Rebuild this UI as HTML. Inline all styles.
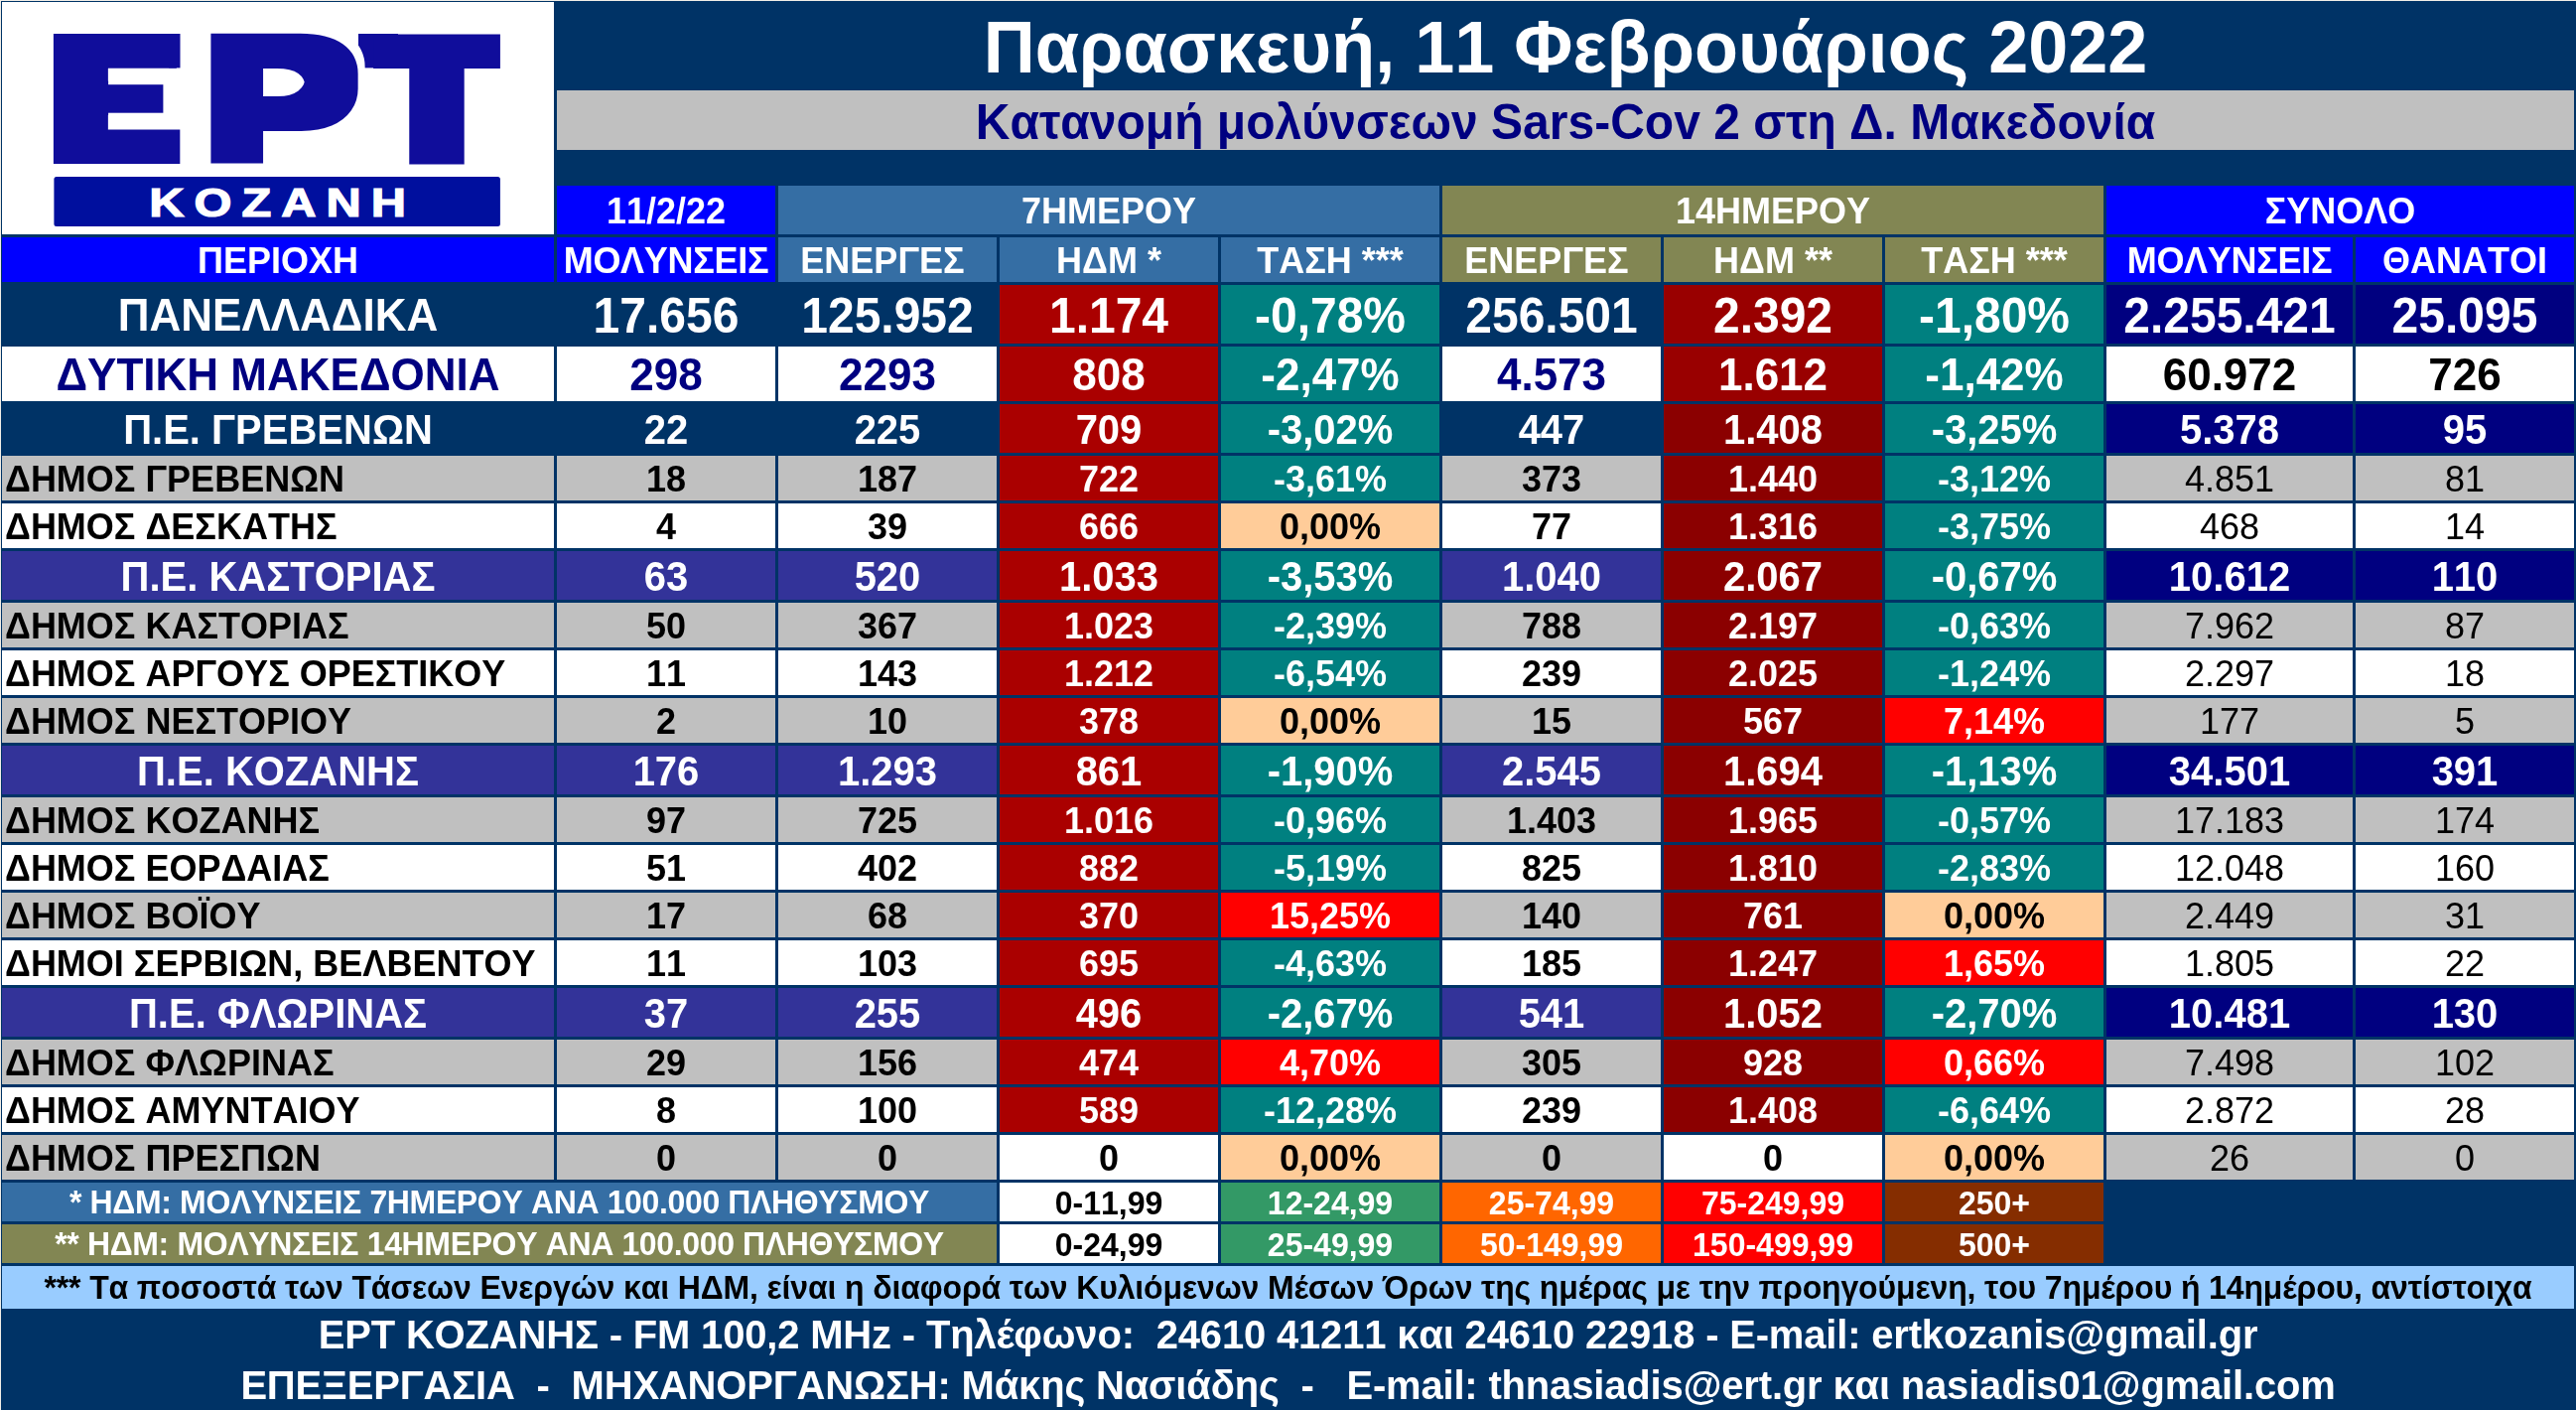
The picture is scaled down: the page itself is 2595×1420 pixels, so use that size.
<!DOCTYPE html>
<html lang="el"><head><meta charset="utf-8"><title>ΕΡΤ ΚΟΖΑΝΗ</title>
<style>
html,body{margin:0;padding:0}
body{width:2595px;height:1420px;background:#003366;position:relative;overflow:hidden;font-family:"Liberation Sans",Arial,sans-serif;font-weight:700;font-kerning:none;font-variant-ligatures:none}
.c{position:absolute;box-sizing:border-box;text-align:center;white-space:nowrap;overflow:visible}
.t{display:block;white-space:inherit}
</style></head><body>
<div class="c" style="left:2px;top:2px;width:556px;height:234px;background:#fff"></div>
<div class="c" style="left:0;top:0;width:2595px;height:1px;background:#F1EEE8"></div>
<div class="c" style="left:0;top:0;width:1px;height:1420px;background:#F1EEE8"></div>
<svg width="560" height="238" viewBox="0 0 560 238" style="position:absolute;left:0;top:0" font-family="Liberation Sans, Arial, sans-serif" font-weight="700">
<defs><filter id="fe" filterUnits="userSpaceOnUse" x="0" y="0" width="560" height="238" color-interpolation-filters="sRGB"><feMorphology in="SourceAlpha" operator="dilate" radius="15 8" result="a"/><feFlood flood-color="#100D9B"/><feComposite in2="a" operator="in" result="ab"/></filter><filter id="fp" filterUnits="userSpaceOnUse" x="0" y="0" width="560" height="238" color-interpolation-filters="sRGB"><feMorphology in="SourceAlpha" operator="dilate" radius="10 7" result="a"/><feFlood flood-color="#100D9B"/><feComposite in2="a" operator="in" result="ab"/><feMorphology in="a" operator="dilate" radius="7 7" result="h"/><feFlood flood-color="#fff"/><feComposite in2="h" operator="in" result="hw"/><feMerge><feMergeNode in="hw"/><feMergeNode in="ab"/></feMerge></filter><filter id="ft" filterUnits="userSpaceOnUse" x="0" y="0" width="560" height="238" color-interpolation-filters="sRGB"><feMorphology in="SourceAlpha" operator="dilate" radius="16 8" result="a"/><feFlood flood-color="#100D9B"/><feComposite in2="a" operator="in" result="ab"/></filter><clipPath id="cp"><rect x="0" y="0" width="560" height="164.4"/></clipPath></defs>
<rect x="361" y="34" width="40" height="34.4" fill="#100D9B"/>
<g filter="url(#fe)"><text transform="translate(57.37,157.00) scale(1.0451,1)" font-size="166.28" fill="#100D9B">Ε</text></g>
<g filter="url(#ft)"><text transform="translate(390.29,157.00) scale(0.9794,1)" font-size="166.28" fill="#100D9B">Τ</text></g>
<g clip-path="url(#cp)"><g filter="url(#fp)"><text transform="translate(207.23,170.79) scale(1.2018,1)" font-size="188.65" fill="#100D9B">Ρ</text></g></g>
<rect x="170" y="34" width="11.5" height="34.4" fill="#100D9B"/>
<rect x="164.4" y="78" width="12" height="40" fill="#fff"/>
<rect x="109.1" y="78" width="66" height="7.2" fill="#fff"/>
<rect x="109.1" y="113.7" width="66" height="4.5" fill="#fff"/>
<rect x="54.4" y="178.1" width="449.5" height="49.8" rx="2.5" fill="#000F9E"/>
<text transform="translate(284.6,218.2) scale(1.22,1)" text-anchor="middle" font-size="40" letter-spacing="8.2" fill="#fff" stroke="#fff" stroke-width="1.2">ΚΟΖΑΝΗ</text>
</svg>
<div class="c" style="left:561px;top:91px;width:2032px;height:60px;background:#C0C0C0;color:#000080;font-size:48px;line-height:65.72px;"><span class="t" style="transform:scaleY(1.03);transform-origin:50% 49px">Κατανομή μολύνσεων Sars-Cov 2 στη Δ. Μακεδονία</span></div>
<div class="c" style="left:561px;top:1px;width:2032px;height:90px;background:#003366;color:#fff;font-size:72px;line-height:95.08px;"><span class="t" style="transform:scaleY(1.03);transform-origin:50% 72px">Παρασκευή, 11 Φεβρουάριος 2022</span></div>
<div class="c" style="left:561px;top:187px;width:220px;height:49px;background:#0000FF;color:#fff;font-size:36px;line-height:52.04px;"><span class="t" style="transform:scaleY(1.04);transform-origin:50% 38px">11/2/22</span></div>
<div class="c" style="left:784px;top:187px;width:666px;height:49px;background:#356EA4;color:#fff;font-size:36px;line-height:52.04px;"><span class="t" style="transform:scaleY(1.04);transform-origin:50% 38px">7ΗΜΕΡΟΥ</span></div>
<div class="c" style="left:1453px;top:187px;width:666px;height:49px;background:#828653;color:#fff;font-size:36px;line-height:52.04px;"><span class="t" style="transform:scaleY(1.04);transform-origin:50% 38px">14ΗΜΕΡΟΥ</span></div>
<div class="c" style="left:2122px;top:187px;width:471px;height:49px;background:#0000FF;color:#fff;font-size:36px;line-height:52.04px;"><span class="t" style="transform:scaleY(1.04);transform-origin:50% 38px">ΣΥΝΟΛΟ</span></div>
<div class="c" style="left:2px;top:239px;width:556px;height:45px;background:#0000FF;color:#fff;font-size:36px;line-height:48.04px;"><span class="t" style="transform:scaleY(1.04);transform-origin:50% 36px">ΠΕΡΙΟΧΗ</span></div>
<div class="c" style="left:561px;top:239px;width:220px;height:45px;background:#0000FF;color:#fff;font-size:36px;line-height:48.04px;letter-spacing:-0.3px;"><span class="t" style="transform:scaleY(1.04);transform-origin:50% 36px">ΜΟΛΥΝΣΕΙΣ</span></div>
<div class="c" style="left:784px;top:239px;width:220px;height:45px;background:#356EA4;color:#fff;font-size:36px;line-height:48.04px;white-space:pre;"><span class="t" style="transform:scaleY(1.04);transform-origin:50% 36px">ΕΝΕΡΓΕΣ </span></div>
<div class="c" style="left:1007px;top:239px;width:220px;height:45px;background:#356EA4;color:#fff;font-size:36px;line-height:48.04px;"><span class="t" style="transform:scaleY(1.04);transform-origin:50% 36px">ΗΔΜ *</span></div>
<div class="c" style="left:1230px;top:239px;width:220px;height:45px;background:#356EA4;color:#fff;font-size:36px;line-height:48.04px;"><span class="t" style="transform:scaleY(1.04);transform-origin:50% 36px">ΤΑΣΗ ***</span></div>
<div class="c" style="left:1453px;top:239px;width:220px;height:45px;background:#828653;color:#fff;font-size:36px;line-height:48.04px;white-space:pre;"><span class="t" style="transform:scaleY(1.04);transform-origin:50% 36px">ΕΝΕΡΓΕΣ </span></div>
<div class="c" style="left:1676px;top:239px;width:220px;height:45px;background:#828653;color:#fff;font-size:36px;line-height:48.04px;"><span class="t" style="transform:scaleY(1.04);transform-origin:50% 36px">ΗΔΜ **</span></div>
<div class="c" style="left:1899px;top:239px;width:220px;height:45px;background:#828653;color:#fff;font-size:36px;line-height:48.04px;"><span class="t" style="transform:scaleY(1.04);transform-origin:50% 36px">ΤΑΣΗ ***</span></div>
<div class="c" style="left:2122px;top:239px;width:248px;height:45px;background:#0000FF;color:#fff;font-size:36px;line-height:48.04px;letter-spacing:-0.3px;"><span class="t" style="transform:scaleY(1.04);transform-origin:50% 36px">ΜΟΛΥΝΣΕΙΣ</span></div>
<div class="c" style="left:2373px;top:239px;width:220px;height:45px;background:#0000FF;color:#fff;font-size:36px;line-height:48.04px;"><span class="t" style="transform:scaleY(1.04);transform-origin:50% 36px">ΘΑΝΑΤΟΙ</span></div>
<div class="c" style="left:2px;top:287px;width:556px;height:59px;background:#003366;color:#fff;font-size:44px;line-height:62.49px;"><span class="t" style="transform:scaleY(1.04);transform-origin:50% 46px">ΠΑΝΕΛΛΑΔΙΚΑ</span></div>
<div class="c" style="left:561px;top:287px;width:220px;height:59px;background:#003366;color:#fff;font-size:48px;line-height:63.72px;"><span class="t" style="transform:scaleY(1.04);transform-origin:50% 48px">17.656</span></div>
<div class="c" style="left:784px;top:287px;width:220px;height:59px;background:#003366;color:#fff;font-size:48px;line-height:63.72px;"><span class="t" style="transform:scaleY(1.04);transform-origin:50% 48px">125.952</span></div>
<div class="c" style="left:1007px;top:287px;width:220px;height:59px;background:#AA0000;color:#fff;font-size:48px;line-height:63.72px;"><span class="t" style="transform:scaleY(1.04);transform-origin:50% 48px">1.174</span></div>
<div class="c" style="left:1230px;top:287px;width:220px;height:59px;background:#008080;color:#fff;font-size:48px;line-height:63.72px;"><span class="t" style="transform:scaleY(1.04);transform-origin:50% 48px">-0,78%</span></div>
<div class="c" style="left:1453px;top:287px;width:220px;height:59px;background:#003366;color:#fff;font-size:48px;line-height:63.72px;"><span class="t" style="transform:scaleY(1.04);transform-origin:50% 48px">256.501</span></div>
<div class="c" style="left:1676px;top:287px;width:220px;height:59px;background:#990000;color:#fff;font-size:48px;line-height:63.72px;"><span class="t" style="transform:scaleY(1.04);transform-origin:50% 48px">2.392</span></div>
<div class="c" style="left:1899px;top:287px;width:220px;height:59px;background:#008080;color:#fff;font-size:48px;line-height:63.72px;"><span class="t" style="transform:scaleY(1.04);transform-origin:50% 48px">-1,80%</span></div>
<div class="c" style="left:2122px;top:287px;width:248px;height:59px;background:#000080;color:#fff;font-size:48px;line-height:63.72px;"><span class="t" style="transform:scaleY(1.04);transform-origin:50% 48px">2.255.421</span></div>
<div class="c" style="left:2373px;top:287px;width:220px;height:59px;background:#000080;color:#fff;font-size:48px;line-height:63.72px;"><span class="t" style="transform:scaleY(1.04);transform-origin:50% 48px">25.095</span></div>
<div class="c" style="left:2px;top:349px;width:556px;height:55px;background:#FFFFFF;color:#000080;font-size:44px;line-height:58.49px;"><span class="t" style="transform:scaleY(1.04);transform-origin:50% 44px">ΔΥΤΙΚΗ ΜΑΚΕΔΟΝΙΑ</span></div>
<div class="c" style="left:561px;top:349px;width:220px;height:55px;background:#FFFFFF;color:#000080;font-size:44px;line-height:58.49px;"><span class="t" style="transform:scaleY(1.04);transform-origin:50% 44px">298</span></div>
<div class="c" style="left:784px;top:349px;width:220px;height:55px;background:#FFFFFF;color:#000080;font-size:44px;line-height:58.49px;"><span class="t" style="transform:scaleY(1.04);transform-origin:50% 44px">2293</span></div>
<div class="c" style="left:1007px;top:349px;width:220px;height:55px;background:#AA0000;color:#fff;font-size:44px;line-height:58.49px;"><span class="t" style="transform:scaleY(1.04);transform-origin:50% 44px">808</span></div>
<div class="c" style="left:1230px;top:349px;width:220px;height:55px;background:#008080;color:#fff;font-size:44px;line-height:58.49px;"><span class="t" style="transform:scaleY(1.04);transform-origin:50% 44px">-2,47%</span></div>
<div class="c" style="left:1453px;top:349px;width:220px;height:55px;background:#FFFFFF;color:#000080;font-size:44px;line-height:58.49px;"><span class="t" style="transform:scaleY(1.04);transform-origin:50% 44px">4.573</span></div>
<div class="c" style="left:1676px;top:349px;width:220px;height:55px;background:#990000;color:#fff;font-size:44px;line-height:58.49px;"><span class="t" style="transform:scaleY(1.04);transform-origin:50% 44px">1.612</span></div>
<div class="c" style="left:1899px;top:349px;width:220px;height:55px;background:#008080;color:#fff;font-size:44px;line-height:58.49px;"><span class="t" style="transform:scaleY(1.04);transform-origin:50% 44px">-1,42%</span></div>
<div class="c" style="left:2122px;top:349px;width:248px;height:55px;background:#FFFFFF;color:#000;font-size:44px;line-height:58.49px;"><span class="t" style="transform:scaleY(1.04);transform-origin:50% 44px">60.972</span></div>
<div class="c" style="left:2373px;top:349px;width:220px;height:55px;background:#FFFFFF;color:#000;font-size:44px;line-height:58.49px;"><span class="t" style="transform:scaleY(1.04);transform-origin:50% 44px">726</span></div>
<div class="c" style="left:2px;top:407px;width:556px;height:49px;background:#003366;color:#fff;font-size:40px;line-height:53.26px;"><span class="t" style="transform:scaleY(1.04);transform-origin:50% 40px">Π.Ε. ΓΡΕΒΕΝΩΝ</span></div>
<div class="c" style="left:561px;top:407px;width:220px;height:49px;background:#003366;color:#fff;font-size:40px;line-height:53.26px;"><span class="t" style="transform:scaleY(1.04);transform-origin:50% 40px">22</span></div>
<div class="c" style="left:784px;top:407px;width:220px;height:49px;background:#003366;color:#fff;font-size:40px;line-height:53.26px;"><span class="t" style="transform:scaleY(1.04);transform-origin:50% 40px">225</span></div>
<div class="c" style="left:1007px;top:407px;width:220px;height:49px;background:#AA0000;color:#fff;font-size:40px;line-height:53.26px;"><span class="t" style="transform:scaleY(1.04);transform-origin:50% 40px">709</span></div>
<div class="c" style="left:1230px;top:407px;width:220px;height:49px;background:#008080;color:#fff;font-size:40px;line-height:53.26px;"><span class="t" style="transform:scaleY(1.04);transform-origin:50% 40px">-3,02%</span></div>
<div class="c" style="left:1453px;top:407px;width:220px;height:49px;background:#003366;color:#fff;font-size:40px;line-height:53.26px;"><span class="t" style="transform:scaleY(1.04);transform-origin:50% 40px">447</span></div>
<div class="c" style="left:1676px;top:407px;width:220px;height:49px;background:#8B0000;color:#fff;font-size:40px;line-height:53.26px;"><span class="t" style="transform:scaleY(1.04);transform-origin:50% 40px">1.408</span></div>
<div class="c" style="left:1899px;top:407px;width:220px;height:49px;background:#008080;color:#fff;font-size:40px;line-height:53.26px;"><span class="t" style="transform:scaleY(1.04);transform-origin:50% 40px">-3,25%</span></div>
<div class="c" style="left:2122px;top:407px;width:248px;height:49px;background:#000080;color:#fff;font-size:40px;line-height:53.26px;"><span class="t" style="transform:scaleY(1.04);transform-origin:50% 40px">5.378</span></div>
<div class="c" style="left:2373px;top:407px;width:220px;height:49px;background:#000080;color:#fff;font-size:40px;line-height:53.26px;"><span class="t" style="transform:scaleY(1.04);transform-origin:50% 40px">95</span></div>
<div class="c" style="left:2px;top:459px;width:556px;height:45px;background:#C0C0C0;color:#000;font-size:36px;line-height:48.04px;text-align:left;padding-left:3px;"><span class="t" style="transform:scaleY(1.04);transform-origin:50% 36px">ΔΗΜΟΣ ΓΡΕΒΕΝΩΝ</span></div>
<div class="c" style="left:561px;top:459px;width:220px;height:45px;background:#C0C0C0;color:#000;font-size:36px;line-height:48.04px;"><span class="t" style="transform:scaleY(1.04);transform-origin:50% 36px">18</span></div>
<div class="c" style="left:784px;top:459px;width:220px;height:45px;background:#C0C0C0;color:#000;font-size:36px;line-height:48.04px;"><span class="t" style="transform:scaleY(1.04);transform-origin:50% 36px">187</span></div>
<div class="c" style="left:1007px;top:459px;width:220px;height:45px;background:#AA0000;color:#fff;font-size:36px;line-height:48.04px;"><span class="t" style="transform:scaleY(1.04);transform-origin:50% 36px">722</span></div>
<div class="c" style="left:1230px;top:459px;width:220px;height:45px;background:#008080;color:#fff;font-size:36px;line-height:48.04px;"><span class="t" style="transform:scaleY(1.04);transform-origin:50% 36px">-3,61%</span></div>
<div class="c" style="left:1453px;top:459px;width:220px;height:45px;background:#C0C0C0;color:#000;font-size:36px;line-height:48.04px;"><span class="t" style="transform:scaleY(1.04);transform-origin:50% 36px">373</span></div>
<div class="c" style="left:1676px;top:459px;width:220px;height:45px;background:#8B0000;color:#fff;font-size:36px;line-height:48.04px;"><span class="t" style="transform:scaleY(1.04);transform-origin:50% 36px">1.440</span></div>
<div class="c" style="left:1899px;top:459px;width:220px;height:45px;background:#008080;color:#fff;font-size:36px;line-height:48.04px;"><span class="t" style="transform:scaleY(1.04);transform-origin:50% 36px">-3,12%</span></div>
<div class="c" style="left:2122px;top:459px;width:248px;height:45px;background:#C0C0C0;color:#000;font-size:36px;line-height:48.04px;font-weight:400;"><span class="t" style="transform:scaleY(1.04);transform-origin:50% 36px">4.851</span></div>
<div class="c" style="left:2373px;top:459px;width:220px;height:45px;background:#C0C0C0;color:#000;font-size:36px;line-height:48.04px;font-weight:400;"><span class="t" style="transform:scaleY(1.04);transform-origin:50% 36px">81</span></div>
<div class="c" style="left:2px;top:507px;width:556px;height:45px;background:#FFFFFF;color:#000;font-size:36px;line-height:48.04px;text-align:left;padding-left:3px;"><span class="t" style="transform:scaleY(1.04);transform-origin:50% 36px">ΔΗΜΟΣ ΔΕΣΚΑΤΗΣ</span></div>
<div class="c" style="left:561px;top:507px;width:220px;height:45px;background:#FFFFFF;color:#000;font-size:36px;line-height:48.04px;"><span class="t" style="transform:scaleY(1.04);transform-origin:50% 36px">4</span></div>
<div class="c" style="left:784px;top:507px;width:220px;height:45px;background:#FFFFFF;color:#000;font-size:36px;line-height:48.04px;"><span class="t" style="transform:scaleY(1.04);transform-origin:50% 36px">39</span></div>
<div class="c" style="left:1007px;top:507px;width:220px;height:45px;background:#AA0000;color:#fff;font-size:36px;line-height:48.04px;"><span class="t" style="transform:scaleY(1.04);transform-origin:50% 36px">666</span></div>
<div class="c" style="left:1230px;top:507px;width:220px;height:45px;background:#FFCC99;color:#000;font-size:36px;line-height:48.04px;"><span class="t" style="transform:scaleY(1.04);transform-origin:50% 36px">0,00%</span></div>
<div class="c" style="left:1453px;top:507px;width:220px;height:45px;background:#FFFFFF;color:#000;font-size:36px;line-height:48.04px;"><span class="t" style="transform:scaleY(1.04);transform-origin:50% 36px">77</span></div>
<div class="c" style="left:1676px;top:507px;width:220px;height:45px;background:#8B0000;color:#fff;font-size:36px;line-height:48.04px;"><span class="t" style="transform:scaleY(1.04);transform-origin:50% 36px">1.316</span></div>
<div class="c" style="left:1899px;top:507px;width:220px;height:45px;background:#008080;color:#fff;font-size:36px;line-height:48.04px;"><span class="t" style="transform:scaleY(1.04);transform-origin:50% 36px">-3,75%</span></div>
<div class="c" style="left:2122px;top:507px;width:248px;height:45px;background:#FFFFFF;color:#000;font-size:36px;line-height:48.04px;font-weight:400;"><span class="t" style="transform:scaleY(1.04);transform-origin:50% 36px">468</span></div>
<div class="c" style="left:2373px;top:507px;width:220px;height:45px;background:#FFFFFF;color:#000;font-size:36px;line-height:48.04px;font-weight:400;"><span class="t" style="transform:scaleY(1.04);transform-origin:50% 36px">14</span></div>
<div class="c" style="left:2px;top:555px;width:556px;height:49px;background:#333399;color:#fff;font-size:40px;line-height:53.26px;"><span class="t" style="transform:scaleY(1.04);transform-origin:50% 40px">Π.Ε. ΚΑΣΤΟΡΙΑΣ</span></div>
<div class="c" style="left:561px;top:555px;width:220px;height:49px;background:#333399;color:#fff;font-size:40px;line-height:53.26px;"><span class="t" style="transform:scaleY(1.04);transform-origin:50% 40px">63</span></div>
<div class="c" style="left:784px;top:555px;width:220px;height:49px;background:#333399;color:#fff;font-size:40px;line-height:53.26px;"><span class="t" style="transform:scaleY(1.04);transform-origin:50% 40px">520</span></div>
<div class="c" style="left:1007px;top:555px;width:220px;height:49px;background:#AA0000;color:#fff;font-size:40px;line-height:53.26px;"><span class="t" style="transform:scaleY(1.04);transform-origin:50% 40px">1.033</span></div>
<div class="c" style="left:1230px;top:555px;width:220px;height:49px;background:#008080;color:#fff;font-size:40px;line-height:53.26px;"><span class="t" style="transform:scaleY(1.04);transform-origin:50% 40px">-3,53%</span></div>
<div class="c" style="left:1453px;top:555px;width:220px;height:49px;background:#333399;color:#fff;font-size:40px;line-height:53.26px;"><span class="t" style="transform:scaleY(1.04);transform-origin:50% 40px">1.040</span></div>
<div class="c" style="left:1676px;top:555px;width:220px;height:49px;background:#8B0000;color:#fff;font-size:40px;line-height:53.26px;"><span class="t" style="transform:scaleY(1.04);transform-origin:50% 40px">2.067</span></div>
<div class="c" style="left:1899px;top:555px;width:220px;height:49px;background:#008080;color:#fff;font-size:40px;line-height:53.26px;"><span class="t" style="transform:scaleY(1.04);transform-origin:50% 40px">-0,67%</span></div>
<div class="c" style="left:2122px;top:555px;width:248px;height:49px;background:#000080;color:#fff;font-size:40px;line-height:53.26px;"><span class="t" style="transform:scaleY(1.04);transform-origin:50% 40px">10.612</span></div>
<div class="c" style="left:2373px;top:555px;width:220px;height:49px;background:#000080;color:#fff;font-size:40px;line-height:53.26px;"><span class="t" style="transform:scaleY(1.04);transform-origin:50% 40px">110</span></div>
<div class="c" style="left:2px;top:607px;width:556px;height:45px;background:#C0C0C0;color:#000;font-size:36px;line-height:48.04px;text-align:left;padding-left:3px;"><span class="t" style="transform:scaleY(1.04);transform-origin:50% 36px">ΔΗΜΟΣ ΚΑΣΤΟΡΙΑΣ</span></div>
<div class="c" style="left:561px;top:607px;width:220px;height:45px;background:#C0C0C0;color:#000;font-size:36px;line-height:48.04px;"><span class="t" style="transform:scaleY(1.04);transform-origin:50% 36px">50</span></div>
<div class="c" style="left:784px;top:607px;width:220px;height:45px;background:#C0C0C0;color:#000;font-size:36px;line-height:48.04px;"><span class="t" style="transform:scaleY(1.04);transform-origin:50% 36px">367</span></div>
<div class="c" style="left:1007px;top:607px;width:220px;height:45px;background:#AA0000;color:#fff;font-size:36px;line-height:48.04px;"><span class="t" style="transform:scaleY(1.04);transform-origin:50% 36px">1.023</span></div>
<div class="c" style="left:1230px;top:607px;width:220px;height:45px;background:#008080;color:#fff;font-size:36px;line-height:48.04px;"><span class="t" style="transform:scaleY(1.04);transform-origin:50% 36px">-2,39%</span></div>
<div class="c" style="left:1453px;top:607px;width:220px;height:45px;background:#C0C0C0;color:#000;font-size:36px;line-height:48.04px;"><span class="t" style="transform:scaleY(1.04);transform-origin:50% 36px">788</span></div>
<div class="c" style="left:1676px;top:607px;width:220px;height:45px;background:#8B0000;color:#fff;font-size:36px;line-height:48.04px;"><span class="t" style="transform:scaleY(1.04);transform-origin:50% 36px">2.197</span></div>
<div class="c" style="left:1899px;top:607px;width:220px;height:45px;background:#008080;color:#fff;font-size:36px;line-height:48.04px;"><span class="t" style="transform:scaleY(1.04);transform-origin:50% 36px">-0,63%</span></div>
<div class="c" style="left:2122px;top:607px;width:248px;height:45px;background:#C0C0C0;color:#000;font-size:36px;line-height:48.04px;font-weight:400;"><span class="t" style="transform:scaleY(1.04);transform-origin:50% 36px">7.962</span></div>
<div class="c" style="left:2373px;top:607px;width:220px;height:45px;background:#C0C0C0;color:#000;font-size:36px;line-height:48.04px;font-weight:400;"><span class="t" style="transform:scaleY(1.04);transform-origin:50% 36px">87</span></div>
<div class="c" style="left:2px;top:655px;width:556px;height:45px;background:#FFFFFF;color:#000;font-size:36px;line-height:48.04px;text-align:left;padding-left:3px;"><span class="t" style="transform:scaleY(1.04);transform-origin:50% 36px">ΔΗΜΟΣ ΑΡΓΟΥΣ ΟΡΕΣΤΙΚΟΥ</span></div>
<div class="c" style="left:561px;top:655px;width:220px;height:45px;background:#FFFFFF;color:#000;font-size:36px;line-height:48.04px;"><span class="t" style="transform:scaleY(1.04);transform-origin:50% 36px">11</span></div>
<div class="c" style="left:784px;top:655px;width:220px;height:45px;background:#FFFFFF;color:#000;font-size:36px;line-height:48.04px;"><span class="t" style="transform:scaleY(1.04);transform-origin:50% 36px">143</span></div>
<div class="c" style="left:1007px;top:655px;width:220px;height:45px;background:#AA0000;color:#fff;font-size:36px;line-height:48.04px;"><span class="t" style="transform:scaleY(1.04);transform-origin:50% 36px">1.212</span></div>
<div class="c" style="left:1230px;top:655px;width:220px;height:45px;background:#008080;color:#fff;font-size:36px;line-height:48.04px;"><span class="t" style="transform:scaleY(1.04);transform-origin:50% 36px">-6,54%</span></div>
<div class="c" style="left:1453px;top:655px;width:220px;height:45px;background:#FFFFFF;color:#000;font-size:36px;line-height:48.04px;"><span class="t" style="transform:scaleY(1.04);transform-origin:50% 36px">239</span></div>
<div class="c" style="left:1676px;top:655px;width:220px;height:45px;background:#8B0000;color:#fff;font-size:36px;line-height:48.04px;"><span class="t" style="transform:scaleY(1.04);transform-origin:50% 36px">2.025</span></div>
<div class="c" style="left:1899px;top:655px;width:220px;height:45px;background:#008080;color:#fff;font-size:36px;line-height:48.04px;"><span class="t" style="transform:scaleY(1.04);transform-origin:50% 36px">-1,24%</span></div>
<div class="c" style="left:2122px;top:655px;width:248px;height:45px;background:#FFFFFF;color:#000;font-size:36px;line-height:48.04px;font-weight:400;"><span class="t" style="transform:scaleY(1.04);transform-origin:50% 36px">2.297</span></div>
<div class="c" style="left:2373px;top:655px;width:220px;height:45px;background:#FFFFFF;color:#000;font-size:36px;line-height:48.04px;font-weight:400;"><span class="t" style="transform:scaleY(1.04);transform-origin:50% 36px">18</span></div>
<div class="c" style="left:2px;top:703px;width:556px;height:45px;background:#C0C0C0;color:#000;font-size:36px;line-height:48.04px;text-align:left;padding-left:3px;"><span class="t" style="transform:scaleY(1.04);transform-origin:50% 36px">ΔΗΜΟΣ ΝΕΣΤΟΡΙΟΥ</span></div>
<div class="c" style="left:561px;top:703px;width:220px;height:45px;background:#C0C0C0;color:#000;font-size:36px;line-height:48.04px;"><span class="t" style="transform:scaleY(1.04);transform-origin:50% 36px">2</span></div>
<div class="c" style="left:784px;top:703px;width:220px;height:45px;background:#C0C0C0;color:#000;font-size:36px;line-height:48.04px;"><span class="t" style="transform:scaleY(1.04);transform-origin:50% 36px">10</span></div>
<div class="c" style="left:1007px;top:703px;width:220px;height:45px;background:#AA0000;color:#fff;font-size:36px;line-height:48.04px;"><span class="t" style="transform:scaleY(1.04);transform-origin:50% 36px">378</span></div>
<div class="c" style="left:1230px;top:703px;width:220px;height:45px;background:#FFCC99;color:#000;font-size:36px;line-height:48.04px;"><span class="t" style="transform:scaleY(1.04);transform-origin:50% 36px">0,00%</span></div>
<div class="c" style="left:1453px;top:703px;width:220px;height:45px;background:#C0C0C0;color:#000;font-size:36px;line-height:48.04px;"><span class="t" style="transform:scaleY(1.04);transform-origin:50% 36px">15</span></div>
<div class="c" style="left:1676px;top:703px;width:220px;height:45px;background:#8B0000;color:#fff;font-size:36px;line-height:48.04px;"><span class="t" style="transform:scaleY(1.04);transform-origin:50% 36px">567</span></div>
<div class="c" style="left:1899px;top:703px;width:220px;height:45px;background:#FF0000;color:#fff;font-size:36px;line-height:48.04px;"><span class="t" style="transform:scaleY(1.04);transform-origin:50% 36px">7,14%</span></div>
<div class="c" style="left:2122px;top:703px;width:248px;height:45px;background:#C0C0C0;color:#000;font-size:36px;line-height:48.04px;font-weight:400;"><span class="t" style="transform:scaleY(1.04);transform-origin:50% 36px">177</span></div>
<div class="c" style="left:2373px;top:703px;width:220px;height:45px;background:#C0C0C0;color:#000;font-size:36px;line-height:48.04px;font-weight:400;"><span class="t" style="transform:scaleY(1.04);transform-origin:50% 36px">5</span></div>
<div class="c" style="left:2px;top:751px;width:556px;height:49px;background:#333399;color:#fff;font-size:40px;line-height:53.26px;"><span class="t" style="transform:scaleY(1.04);transform-origin:50% 40px">Π.Ε. ΚΟΖΑΝΗΣ</span></div>
<div class="c" style="left:561px;top:751px;width:220px;height:49px;background:#333399;color:#fff;font-size:40px;line-height:53.26px;"><span class="t" style="transform:scaleY(1.04);transform-origin:50% 40px">176</span></div>
<div class="c" style="left:784px;top:751px;width:220px;height:49px;background:#333399;color:#fff;font-size:40px;line-height:53.26px;"><span class="t" style="transform:scaleY(1.04);transform-origin:50% 40px">1.293</span></div>
<div class="c" style="left:1007px;top:751px;width:220px;height:49px;background:#AA0000;color:#fff;font-size:40px;line-height:53.26px;"><span class="t" style="transform:scaleY(1.04);transform-origin:50% 40px">861</span></div>
<div class="c" style="left:1230px;top:751px;width:220px;height:49px;background:#008080;color:#fff;font-size:40px;line-height:53.26px;"><span class="t" style="transform:scaleY(1.04);transform-origin:50% 40px">-1,90%</span></div>
<div class="c" style="left:1453px;top:751px;width:220px;height:49px;background:#333399;color:#fff;font-size:40px;line-height:53.26px;"><span class="t" style="transform:scaleY(1.04);transform-origin:50% 40px">2.545</span></div>
<div class="c" style="left:1676px;top:751px;width:220px;height:49px;background:#8B0000;color:#fff;font-size:40px;line-height:53.26px;"><span class="t" style="transform:scaleY(1.04);transform-origin:50% 40px">1.694</span></div>
<div class="c" style="left:1899px;top:751px;width:220px;height:49px;background:#008080;color:#fff;font-size:40px;line-height:53.26px;"><span class="t" style="transform:scaleY(1.04);transform-origin:50% 40px">-1,13%</span></div>
<div class="c" style="left:2122px;top:751px;width:248px;height:49px;background:#000080;color:#fff;font-size:40px;line-height:53.26px;"><span class="t" style="transform:scaleY(1.04);transform-origin:50% 40px">34.501</span></div>
<div class="c" style="left:2373px;top:751px;width:220px;height:49px;background:#000080;color:#fff;font-size:40px;line-height:53.26px;"><span class="t" style="transform:scaleY(1.04);transform-origin:50% 40px">391</span></div>
<div class="c" style="left:2px;top:803px;width:556px;height:45px;background:#C0C0C0;color:#000;font-size:36px;line-height:48.04px;text-align:left;padding-left:3px;"><span class="t" style="transform:scaleY(1.04);transform-origin:50% 36px">ΔΗΜΟΣ ΚΟΖΑΝΗΣ</span></div>
<div class="c" style="left:561px;top:803px;width:220px;height:45px;background:#C0C0C0;color:#000;font-size:36px;line-height:48.04px;"><span class="t" style="transform:scaleY(1.04);transform-origin:50% 36px">97</span></div>
<div class="c" style="left:784px;top:803px;width:220px;height:45px;background:#C0C0C0;color:#000;font-size:36px;line-height:48.04px;"><span class="t" style="transform:scaleY(1.04);transform-origin:50% 36px">725</span></div>
<div class="c" style="left:1007px;top:803px;width:220px;height:45px;background:#AA0000;color:#fff;font-size:36px;line-height:48.04px;"><span class="t" style="transform:scaleY(1.04);transform-origin:50% 36px">1.016</span></div>
<div class="c" style="left:1230px;top:803px;width:220px;height:45px;background:#008080;color:#fff;font-size:36px;line-height:48.04px;"><span class="t" style="transform:scaleY(1.04);transform-origin:50% 36px">-0,96%</span></div>
<div class="c" style="left:1453px;top:803px;width:220px;height:45px;background:#C0C0C0;color:#000;font-size:36px;line-height:48.04px;"><span class="t" style="transform:scaleY(1.04);transform-origin:50% 36px">1.403</span></div>
<div class="c" style="left:1676px;top:803px;width:220px;height:45px;background:#8B0000;color:#fff;font-size:36px;line-height:48.04px;"><span class="t" style="transform:scaleY(1.04);transform-origin:50% 36px">1.965</span></div>
<div class="c" style="left:1899px;top:803px;width:220px;height:45px;background:#008080;color:#fff;font-size:36px;line-height:48.04px;"><span class="t" style="transform:scaleY(1.04);transform-origin:50% 36px">-0,57%</span></div>
<div class="c" style="left:2122px;top:803px;width:248px;height:45px;background:#C0C0C0;color:#000;font-size:36px;line-height:48.04px;font-weight:400;"><span class="t" style="transform:scaleY(1.04);transform-origin:50% 36px">17.183</span></div>
<div class="c" style="left:2373px;top:803px;width:220px;height:45px;background:#C0C0C0;color:#000;font-size:36px;line-height:48.04px;font-weight:400;"><span class="t" style="transform:scaleY(1.04);transform-origin:50% 36px">174</span></div>
<div class="c" style="left:2px;top:851px;width:556px;height:45px;background:#FFFFFF;color:#000;font-size:36px;line-height:48.04px;text-align:left;padding-left:3px;"><span class="t" style="transform:scaleY(1.04);transform-origin:50% 36px">ΔΗΜΟΣ ΕΟΡΔΑΙΑΣ</span></div>
<div class="c" style="left:561px;top:851px;width:220px;height:45px;background:#FFFFFF;color:#000;font-size:36px;line-height:48.04px;"><span class="t" style="transform:scaleY(1.04);transform-origin:50% 36px">51</span></div>
<div class="c" style="left:784px;top:851px;width:220px;height:45px;background:#FFFFFF;color:#000;font-size:36px;line-height:48.04px;"><span class="t" style="transform:scaleY(1.04);transform-origin:50% 36px">402</span></div>
<div class="c" style="left:1007px;top:851px;width:220px;height:45px;background:#AA0000;color:#fff;font-size:36px;line-height:48.04px;"><span class="t" style="transform:scaleY(1.04);transform-origin:50% 36px">882</span></div>
<div class="c" style="left:1230px;top:851px;width:220px;height:45px;background:#008080;color:#fff;font-size:36px;line-height:48.04px;"><span class="t" style="transform:scaleY(1.04);transform-origin:50% 36px">-5,19%</span></div>
<div class="c" style="left:1453px;top:851px;width:220px;height:45px;background:#FFFFFF;color:#000;font-size:36px;line-height:48.04px;"><span class="t" style="transform:scaleY(1.04);transform-origin:50% 36px">825</span></div>
<div class="c" style="left:1676px;top:851px;width:220px;height:45px;background:#8B0000;color:#fff;font-size:36px;line-height:48.04px;"><span class="t" style="transform:scaleY(1.04);transform-origin:50% 36px">1.810</span></div>
<div class="c" style="left:1899px;top:851px;width:220px;height:45px;background:#008080;color:#fff;font-size:36px;line-height:48.04px;"><span class="t" style="transform:scaleY(1.04);transform-origin:50% 36px">-2,83%</span></div>
<div class="c" style="left:2122px;top:851px;width:248px;height:45px;background:#FFFFFF;color:#000;font-size:36px;line-height:48.04px;font-weight:400;"><span class="t" style="transform:scaleY(1.04);transform-origin:50% 36px">12.048</span></div>
<div class="c" style="left:2373px;top:851px;width:220px;height:45px;background:#FFFFFF;color:#000;font-size:36px;line-height:48.04px;font-weight:400;"><span class="t" style="transform:scaleY(1.04);transform-origin:50% 36px">160</span></div>
<div class="c" style="left:2px;top:899px;width:556px;height:45px;background:#C0C0C0;color:#000;font-size:36px;line-height:48.04px;text-align:left;padding-left:3px;"><span class="t" style="transform:scaleY(1.04);transform-origin:50% 36px">ΔΗΜΟΣ ΒΟΪΟΥ</span></div>
<div class="c" style="left:561px;top:899px;width:220px;height:45px;background:#C0C0C0;color:#000;font-size:36px;line-height:48.04px;"><span class="t" style="transform:scaleY(1.04);transform-origin:50% 36px">17</span></div>
<div class="c" style="left:784px;top:899px;width:220px;height:45px;background:#C0C0C0;color:#000;font-size:36px;line-height:48.04px;"><span class="t" style="transform:scaleY(1.04);transform-origin:50% 36px">68</span></div>
<div class="c" style="left:1007px;top:899px;width:220px;height:45px;background:#AA0000;color:#fff;font-size:36px;line-height:48.04px;"><span class="t" style="transform:scaleY(1.04);transform-origin:50% 36px">370</span></div>
<div class="c" style="left:1230px;top:899px;width:220px;height:45px;background:#FF0000;color:#fff;font-size:36px;line-height:48.04px;"><span class="t" style="transform:scaleY(1.04);transform-origin:50% 36px">15,25%</span></div>
<div class="c" style="left:1453px;top:899px;width:220px;height:45px;background:#C0C0C0;color:#000;font-size:36px;line-height:48.04px;"><span class="t" style="transform:scaleY(1.04);transform-origin:50% 36px">140</span></div>
<div class="c" style="left:1676px;top:899px;width:220px;height:45px;background:#8B0000;color:#fff;font-size:36px;line-height:48.04px;"><span class="t" style="transform:scaleY(1.04);transform-origin:50% 36px">761</span></div>
<div class="c" style="left:1899px;top:899px;width:220px;height:45px;background:#FFCC99;color:#000;font-size:36px;line-height:48.04px;"><span class="t" style="transform:scaleY(1.04);transform-origin:50% 36px">0,00%</span></div>
<div class="c" style="left:2122px;top:899px;width:248px;height:45px;background:#C0C0C0;color:#000;font-size:36px;line-height:48.04px;font-weight:400;"><span class="t" style="transform:scaleY(1.04);transform-origin:50% 36px">2.449</span></div>
<div class="c" style="left:2373px;top:899px;width:220px;height:45px;background:#C0C0C0;color:#000;font-size:36px;line-height:48.04px;font-weight:400;"><span class="t" style="transform:scaleY(1.04);transform-origin:50% 36px">31</span></div>
<div class="c" style="left:2px;top:947px;width:556px;height:45px;background:#FFFFFF;color:#000;font-size:36px;line-height:48.04px;text-align:left;padding-left:3px;"><span class="t" style="transform:scaleY(1.04);transform-origin:50% 36px">ΔΗΜΟΙ ΣΕΡΒΙΩΝ, ΒΕΛΒΕΝΤΟΥ</span></div>
<div class="c" style="left:561px;top:947px;width:220px;height:45px;background:#FFFFFF;color:#000;font-size:36px;line-height:48.04px;"><span class="t" style="transform:scaleY(1.04);transform-origin:50% 36px">11</span></div>
<div class="c" style="left:784px;top:947px;width:220px;height:45px;background:#FFFFFF;color:#000;font-size:36px;line-height:48.04px;"><span class="t" style="transform:scaleY(1.04);transform-origin:50% 36px">103</span></div>
<div class="c" style="left:1007px;top:947px;width:220px;height:45px;background:#AA0000;color:#fff;font-size:36px;line-height:48.04px;"><span class="t" style="transform:scaleY(1.04);transform-origin:50% 36px">695</span></div>
<div class="c" style="left:1230px;top:947px;width:220px;height:45px;background:#008080;color:#fff;font-size:36px;line-height:48.04px;"><span class="t" style="transform:scaleY(1.04);transform-origin:50% 36px">-4,63%</span></div>
<div class="c" style="left:1453px;top:947px;width:220px;height:45px;background:#FFFFFF;color:#000;font-size:36px;line-height:48.04px;"><span class="t" style="transform:scaleY(1.04);transform-origin:50% 36px">185</span></div>
<div class="c" style="left:1676px;top:947px;width:220px;height:45px;background:#8B0000;color:#fff;font-size:36px;line-height:48.04px;"><span class="t" style="transform:scaleY(1.04);transform-origin:50% 36px">1.247</span></div>
<div class="c" style="left:1899px;top:947px;width:220px;height:45px;background:#FF0000;color:#fff;font-size:36px;line-height:48.04px;"><span class="t" style="transform:scaleY(1.04);transform-origin:50% 36px">1,65%</span></div>
<div class="c" style="left:2122px;top:947px;width:248px;height:45px;background:#FFFFFF;color:#000;font-size:36px;line-height:48.04px;font-weight:400;"><span class="t" style="transform:scaleY(1.04);transform-origin:50% 36px">1.805</span></div>
<div class="c" style="left:2373px;top:947px;width:220px;height:45px;background:#FFFFFF;color:#000;font-size:36px;line-height:48.04px;font-weight:400;"><span class="t" style="transform:scaleY(1.04);transform-origin:50% 36px">22</span></div>
<div class="c" style="left:2px;top:995px;width:556px;height:49px;background:#333399;color:#fff;font-size:40px;line-height:53.26px;"><span class="t" style="transform:scaleY(1.04);transform-origin:50% 40px">Π.Ε. ΦΛΩΡΙΝΑΣ</span></div>
<div class="c" style="left:561px;top:995px;width:220px;height:49px;background:#333399;color:#fff;font-size:40px;line-height:53.26px;"><span class="t" style="transform:scaleY(1.04);transform-origin:50% 40px">37</span></div>
<div class="c" style="left:784px;top:995px;width:220px;height:49px;background:#333399;color:#fff;font-size:40px;line-height:53.26px;"><span class="t" style="transform:scaleY(1.04);transform-origin:50% 40px">255</span></div>
<div class="c" style="left:1007px;top:995px;width:220px;height:49px;background:#AA0000;color:#fff;font-size:40px;line-height:53.26px;"><span class="t" style="transform:scaleY(1.04);transform-origin:50% 40px">496</span></div>
<div class="c" style="left:1230px;top:995px;width:220px;height:49px;background:#008080;color:#fff;font-size:40px;line-height:53.26px;"><span class="t" style="transform:scaleY(1.04);transform-origin:50% 40px">-2,67%</span></div>
<div class="c" style="left:1453px;top:995px;width:220px;height:49px;background:#333399;color:#fff;font-size:40px;line-height:53.26px;"><span class="t" style="transform:scaleY(1.04);transform-origin:50% 40px">541</span></div>
<div class="c" style="left:1676px;top:995px;width:220px;height:49px;background:#8B0000;color:#fff;font-size:40px;line-height:53.26px;"><span class="t" style="transform:scaleY(1.04);transform-origin:50% 40px">1.052</span></div>
<div class="c" style="left:1899px;top:995px;width:220px;height:49px;background:#008080;color:#fff;font-size:40px;line-height:53.26px;"><span class="t" style="transform:scaleY(1.04);transform-origin:50% 40px">-2,70%</span></div>
<div class="c" style="left:2122px;top:995px;width:248px;height:49px;background:#000080;color:#fff;font-size:40px;line-height:53.26px;"><span class="t" style="transform:scaleY(1.04);transform-origin:50% 40px">10.481</span></div>
<div class="c" style="left:2373px;top:995px;width:220px;height:49px;background:#000080;color:#fff;font-size:40px;line-height:53.26px;"><span class="t" style="transform:scaleY(1.04);transform-origin:50% 40px">130</span></div>
<div class="c" style="left:2px;top:1047px;width:556px;height:45px;background:#C0C0C0;color:#000;font-size:36px;line-height:48.04px;text-align:left;padding-left:3px;"><span class="t" style="transform:scaleY(1.04);transform-origin:50% 36px">ΔΗΜΟΣ ΦΛΩΡΙΝΑΣ</span></div>
<div class="c" style="left:561px;top:1047px;width:220px;height:45px;background:#C0C0C0;color:#000;font-size:36px;line-height:48.04px;"><span class="t" style="transform:scaleY(1.04);transform-origin:50% 36px">29</span></div>
<div class="c" style="left:784px;top:1047px;width:220px;height:45px;background:#C0C0C0;color:#000;font-size:36px;line-height:48.04px;"><span class="t" style="transform:scaleY(1.04);transform-origin:50% 36px">156</span></div>
<div class="c" style="left:1007px;top:1047px;width:220px;height:45px;background:#AA0000;color:#fff;font-size:36px;line-height:48.04px;"><span class="t" style="transform:scaleY(1.04);transform-origin:50% 36px">474</span></div>
<div class="c" style="left:1230px;top:1047px;width:220px;height:45px;background:#FF0000;color:#fff;font-size:36px;line-height:48.04px;"><span class="t" style="transform:scaleY(1.04);transform-origin:50% 36px">4,70%</span></div>
<div class="c" style="left:1453px;top:1047px;width:220px;height:45px;background:#C0C0C0;color:#000;font-size:36px;line-height:48.04px;"><span class="t" style="transform:scaleY(1.04);transform-origin:50% 36px">305</span></div>
<div class="c" style="left:1676px;top:1047px;width:220px;height:45px;background:#8B0000;color:#fff;font-size:36px;line-height:48.04px;"><span class="t" style="transform:scaleY(1.04);transform-origin:50% 36px">928</span></div>
<div class="c" style="left:1899px;top:1047px;width:220px;height:45px;background:#FF0000;color:#fff;font-size:36px;line-height:48.04px;"><span class="t" style="transform:scaleY(1.04);transform-origin:50% 36px">0,66%</span></div>
<div class="c" style="left:2122px;top:1047px;width:248px;height:45px;background:#C0C0C0;color:#000;font-size:36px;line-height:48.04px;font-weight:400;"><span class="t" style="transform:scaleY(1.04);transform-origin:50% 36px">7.498</span></div>
<div class="c" style="left:2373px;top:1047px;width:220px;height:45px;background:#C0C0C0;color:#000;font-size:36px;line-height:48.04px;font-weight:400;"><span class="t" style="transform:scaleY(1.04);transform-origin:50% 36px">102</span></div>
<div class="c" style="left:2px;top:1095px;width:556px;height:45px;background:#FFFFFF;color:#000;font-size:36px;line-height:48.04px;text-align:left;padding-left:3px;"><span class="t" style="transform:scaleY(1.04);transform-origin:50% 36px">ΔΗΜΟΣ ΑΜΥΝΤΑΙΟΥ</span></div>
<div class="c" style="left:561px;top:1095px;width:220px;height:45px;background:#FFFFFF;color:#000;font-size:36px;line-height:48.04px;"><span class="t" style="transform:scaleY(1.04);transform-origin:50% 36px">8</span></div>
<div class="c" style="left:784px;top:1095px;width:220px;height:45px;background:#FFFFFF;color:#000;font-size:36px;line-height:48.04px;"><span class="t" style="transform:scaleY(1.04);transform-origin:50% 36px">100</span></div>
<div class="c" style="left:1007px;top:1095px;width:220px;height:45px;background:#AA0000;color:#fff;font-size:36px;line-height:48.04px;"><span class="t" style="transform:scaleY(1.04);transform-origin:50% 36px">589</span></div>
<div class="c" style="left:1230px;top:1095px;width:220px;height:45px;background:#008080;color:#fff;font-size:36px;line-height:48.04px;"><span class="t" style="transform:scaleY(1.04);transform-origin:50% 36px">-12,28%</span></div>
<div class="c" style="left:1453px;top:1095px;width:220px;height:45px;background:#FFFFFF;color:#000;font-size:36px;line-height:48.04px;"><span class="t" style="transform:scaleY(1.04);transform-origin:50% 36px">239</span></div>
<div class="c" style="left:1676px;top:1095px;width:220px;height:45px;background:#8B0000;color:#fff;font-size:36px;line-height:48.04px;"><span class="t" style="transform:scaleY(1.04);transform-origin:50% 36px">1.408</span></div>
<div class="c" style="left:1899px;top:1095px;width:220px;height:45px;background:#008080;color:#fff;font-size:36px;line-height:48.04px;"><span class="t" style="transform:scaleY(1.04);transform-origin:50% 36px">-6,64%</span></div>
<div class="c" style="left:2122px;top:1095px;width:248px;height:45px;background:#FFFFFF;color:#000;font-size:36px;line-height:48.04px;font-weight:400;"><span class="t" style="transform:scaleY(1.04);transform-origin:50% 36px">2.872</span></div>
<div class="c" style="left:2373px;top:1095px;width:220px;height:45px;background:#FFFFFF;color:#000;font-size:36px;line-height:48.04px;font-weight:400;"><span class="t" style="transform:scaleY(1.04);transform-origin:50% 36px">28</span></div>
<div class="c" style="left:2px;top:1143px;width:556px;height:45px;background:#C0C0C0;color:#000;font-size:36px;line-height:48.04px;text-align:left;padding-left:3px;"><span class="t" style="transform:scaleY(1.04);transform-origin:50% 36px">ΔΗΜΟΣ ΠΡΕΣΠΩΝ</span></div>
<div class="c" style="left:561px;top:1143px;width:220px;height:45px;background:#C0C0C0;color:#000;font-size:36px;line-height:48.04px;"><span class="t" style="transform:scaleY(1.04);transform-origin:50% 36px">0</span></div>
<div class="c" style="left:784px;top:1143px;width:220px;height:45px;background:#C0C0C0;color:#000;font-size:36px;line-height:48.04px;"><span class="t" style="transform:scaleY(1.04);transform-origin:50% 36px">0</span></div>
<div class="c" style="left:1007px;top:1143px;width:220px;height:45px;background:#FFFFFF;color:#000;font-size:36px;line-height:48.04px;"><span class="t" style="transform:scaleY(1.04);transform-origin:50% 36px">0</span></div>
<div class="c" style="left:1230px;top:1143px;width:220px;height:45px;background:#FFCC99;color:#000;font-size:36px;line-height:48.04px;"><span class="t" style="transform:scaleY(1.04);transform-origin:50% 36px">0,00%</span></div>
<div class="c" style="left:1453px;top:1143px;width:220px;height:45px;background:#C0C0C0;color:#000;font-size:36px;line-height:48.04px;"><span class="t" style="transform:scaleY(1.04);transform-origin:50% 36px">0</span></div>
<div class="c" style="left:1676px;top:1143px;width:220px;height:45px;background:#FFFFFF;color:#000;font-size:36px;line-height:48.04px;"><span class="t" style="transform:scaleY(1.04);transform-origin:50% 36px">0</span></div>
<div class="c" style="left:1899px;top:1143px;width:220px;height:45px;background:#FFCC99;color:#000;font-size:36px;line-height:48.04px;"><span class="t" style="transform:scaleY(1.04);transform-origin:50% 36px">0,00%</span></div>
<div class="c" style="left:2122px;top:1143px;width:248px;height:45px;background:#C0C0C0;color:#000;font-size:36px;line-height:48.04px;font-weight:400;"><span class="t" style="transform:scaleY(1.04);transform-origin:50% 36px">26</span></div>
<div class="c" style="left:2373px;top:1143px;width:220px;height:45px;background:#C0C0C0;color:#000;font-size:36px;line-height:48.04px;font-weight:400;"><span class="t" style="transform:scaleY(1.04);transform-origin:50% 36px">0</span></div>
<div class="c" style="left:2px;top:1191px;width:1002px;height:39px;background:#356EA4;color:#fff;font-size:32px;line-height:40.81px;letter-spacing:-0.36px;"><span class="t" style="transform:scaleY(1.04);transform-origin:50% 31px">* ΗΔΜ: ΜΟΛΥΝΣΕΙΣ 7ΗΜΕΡΟΥ ΑΝΑ 100.000 ΠΛΗΘΥΣΜΟΥ</span></div>
<div class="c" style="left:2px;top:1233px;width:1002px;height:39px;background:#828653;color:#fff;font-size:32px;line-height:40.81px;letter-spacing:-0.36px;"><span class="t" style="transform:scaleY(1.04);transform-origin:50% 31px">** ΗΔΜ: ΜΟΛΥΝΣΕΙΣ 14ΗΜΕΡΟΥ ΑΝΑ 100.000 ΠΛΗΘΥΣΜΟΥ</span></div>
<div class="c" style="left:1007px;top:1191px;width:220px;height:39px;background:#FFFFFF;color:#000;font-size:32px;line-height:42.81px;"><span class="t" style="transform:scaleY(1.04);transform-origin:50% 32px">0-11,99</span></div>
<div class="c" style="left:1007px;top:1233px;width:220px;height:39px;background:#FFFFFF;color:#000;font-size:32px;line-height:42.81px;"><span class="t" style="transform:scaleY(1.04);transform-origin:50% 32px">0-24,99</span></div>
<div class="c" style="left:1230px;top:1191px;width:220px;height:39px;background:#339966;color:#fff;font-size:32px;line-height:42.81px;"><span class="t" style="transform:scaleY(1.04);transform-origin:50% 32px">12-24,99</span></div>
<div class="c" style="left:1230px;top:1233px;width:220px;height:39px;background:#339966;color:#fff;font-size:32px;line-height:42.81px;"><span class="t" style="transform:scaleY(1.04);transform-origin:50% 32px">25-49,99</span></div>
<div class="c" style="left:1453px;top:1191px;width:220px;height:39px;background:#FF6600;color:#fff;font-size:32px;line-height:42.81px;"><span class="t" style="transform:scaleY(1.04);transform-origin:50% 32px">25-74,99</span></div>
<div class="c" style="left:1453px;top:1233px;width:220px;height:39px;background:#FF6600;color:#fff;font-size:32px;line-height:42.81px;"><span class="t" style="transform:scaleY(1.04);transform-origin:50% 32px">50-149,99</span></div>
<div class="c" style="left:1676px;top:1191px;width:220px;height:39px;background:#FF0000;color:#fff;font-size:32px;line-height:42.81px;"><span class="t" style="transform:scaleY(1.04);transform-origin:50% 32px">75-249,99</span></div>
<div class="c" style="left:1676px;top:1233px;width:220px;height:39px;background:#FF0000;color:#fff;font-size:32px;line-height:42.81px;"><span class="t" style="transform:scaleY(1.04);transform-origin:50% 32px">150-499,99</span></div>
<div class="c" style="left:1899px;top:1191px;width:220px;height:39px;background:#852D00;color:#fff;font-size:32px;line-height:42.81px;"><span class="t" style="transform:scaleY(1.04);transform-origin:50% 32px">250+</span></div>
<div class="c" style="left:1899px;top:1233px;width:220px;height:39px;background:#852D00;color:#fff;font-size:32px;line-height:42.81px;"><span class="t" style="transform:scaleY(1.04);transform-origin:50% 32px">500+</span></div>
<div class="c" style="left:2px;top:1275px;width:2591px;height:43px;background:#99CCFF;color:#000;font-size:32px;line-height:44.81px;letter-spacing:-0.14px;"><span class="t" style="transform:scaleY(1.015);transform-origin:50% 33px">*** Τα ποσοστά των Τάσεων Ενεργών και ΗΔΜ, είναι η διαφορά των Κυλιόμενων Μέσων Όρων της ημέρας με την προηγούμενη, του 7ημέρου ή 14ημέρου, αντίστοιχα</span></div>
<div class="c" style="left:0;top:1308px;width:2595px;height:60px;color:#fff;font-size:40px;line-height:73.26px;letter-spacing:-0.18px;white-space:pre"><span class="t" style="transform:scaleY(1.03);transform-origin:50% 50px">ΕΡΤ ΚΟΖΑΝΗΣ - FM 100,2 MHz - Τηλέφωνο:  24610 41211 και 24610 22918 - E-mail: ertkozanis@gmail.gr</span></div>
<div class="c" style="left:0;top:1359px;width:2595px;height:60px;color:#fff;font-size:40px;line-height:73.26px;letter-spacing:-0.18px;white-space:pre"><span class="t" style="transform:scaleY(1.03);transform-origin:50% 50px">ΕΠΕΞΕΡΓΑΣΙΑ  -  ΜΗΧΑΝΟΡΓΑΝΩΣΗ: Μάκης Νασιάδης  -   E-mail: thnasiadis@ert.gr και nasiadis01@gmail.com</span></div>
</body></html>
